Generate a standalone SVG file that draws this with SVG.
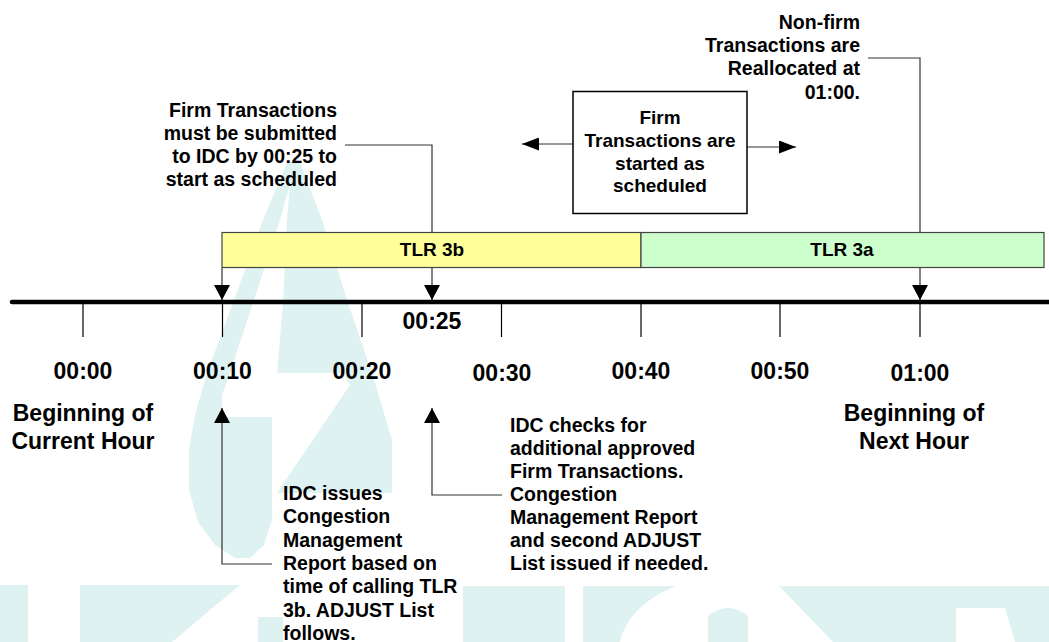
<svg xmlns="http://www.w3.org/2000/svg" width="1049" height="642" viewBox="0 0 1049 642">
<style>
.t{font-family:"Liberation Sans",Arial,sans-serif;font-weight:bold;font-size:19px;fill:#000}
.a{font-size:19.5px}
.big{font-size:23px}
.mid{text-anchor:middle}
.end{text-anchor:end}
.wm{fill:#dff2f2;stroke:none}
.con{fill:none;stroke:#333;stroke-width:1.2}
.tick{stroke:#000;stroke-width:1.2}
</style>
<defs>
<marker id="arr" markerUnits="userSpaceOnUse" markerWidth="15" markerHeight="16" viewBox="0 0 15 16" refX="15" refY="8" orient="auto">
<path d="M0,0 L15,8 L0,16 Z" fill="#000"/>
</marker>
<marker id="arrS" markerUnits="userSpaceOnUse" markerWidth="17" markerHeight="13" viewBox="0 0 17 13" refX="17" refY="6.5" orient="auto">
<path d="M0,0 L17,6.5 L0,13 Z" fill="#000"/>
</marker>
</defs>
<rect width="1049" height="642" fill="#fff"/>
<g id="watermark">
<path class="wm" d="M287,162 L297,162 L287,195 L280,220 L253,303 L230,373 L222,395 L222,417 L272,417 L272,520 L264,545 L250,558 L235,558 L215,545 L198,522 L189,490 L189,450 L195,415 L207,373 L233,303 L263,220 Z"/>
<path class="wm" d="M292,162 L300,162 L322,220 L348,303 L372,373 L392,440 L392,493 L277,493 L350,385 L343,373 L277,373 L283,303 L287,220 Z"/>
<rect class="wm" x="0" y="585" width="28" height="57"/>
<path class="wm" d="M80,585 L240,585 L172,642 L80,642 Z"/>
<rect class="wm" x="258" y="617" width="25" height="25"/>
<rect class="wm" x="463" y="586" width="102" height="56"/>
<path class="wm" d="M583,586 L676,586 C650,596 626,615 620,642 L583,642 Z"/>
<path class="wm" d="M708,642 L708,616 Q728,600 748,616 L748,642 Z"/>
<path class="wm" d="M779,586 L1049,586 L1049,642 L1015,642 L1005,608 L956,608 L956,642 L833,642 Z"/>
</g>
<g id="connectors">
<path class="con" d="M345,145 H432 V300" marker-end="url(#arr)"/>
<path class="con" d="M222,268 V300" marker-end="url(#arr)"/>
<path class="con" d="M868,58 H920 V300" marker-end="url(#arr)"/>
<path class="con" d="M573,144 H522" marker-end="url(#arrS)"/>
<path class="con" d="M747,147 H796" marker-end="url(#arrS)"/>
<path class="con" d="M272,564 H222 V408" marker-end="url(#arr)"/>
<path class="con" d="M502,495 H432 V408" marker-end="url(#arr)"/>
</g>
<g id="tlr3b">
<rect x="222" y="232.5" width="419" height="35" fill="#ffff99" stroke="#444" stroke-width="1.2"/>
<text class="t mid" x="432" y="256">TLR 3b</text>
</g>
<g id="tlr3a">
<rect x="641" y="232.5" width="403" height="35" fill="#ccffcc" stroke="#444" stroke-width="1.2"/>
<text class="t mid" x="842" y="256">TLR 3a</text>
</g>
<g id="timeline">
<line x1="12" y1="302" x2="1049" y2="302" stroke="#000" stroke-width="4.5" stroke-linecap="round"/>
<line class="tick" x1="83" y1="304" x2="83" y2="337"/>
<line class="tick" x1="222.5" y1="304" x2="222.5" y2="337"/>
<line class="tick" x1="362" y1="304" x2="362" y2="337"/>
<line class="tick" x1="501.5" y1="304" x2="501.5" y2="337"/>
<line class="tick" x1="641" y1="304" x2="641" y2="337"/>
<line class="tick" x1="780" y1="304" x2="780" y2="337"/>
<line class="tick" x1="920" y1="304" x2="920" y2="337"/>
<text class="t big mid" x="432" y="329">00:25</text>
<text class="t big mid" x="83" y="378.5">00:00</text>
<text class="t big mid" x="222.5" y="378.5">00:10</text>
<text class="t big mid" x="362" y="378.5">00:20</text>
<text class="t big mid" x="502" y="381">00:30</text>
<text class="t big mid" x="641" y="378.5">00:40</text>
<text class="t big mid" x="780" y="378.5">00:50</text>
<text class="t big mid" x="920" y="381">01:00</text>
</g>
<g id="current-hour">
<text class="t big mid" x="83" y="420.5">Beginning of</text>
<text class="t big mid" x="83" y="448.5">Current Hour</text>
</g>
<g id="next-hour">
<text class="t big mid" x="914" y="420.5">Beginning of</text>
<text class="t big mid" x="914" y="448.5">Next Hour</text>
</g>
<g id="firm-submit">
<text class="t a end" x="337" y="117">Firm Transactions</text>
<text class="t a end" x="337" y="140">must be submitted</text>
<text class="t a end" x="337" y="163">to IDC by 00:25 to</text>
<text class="t a end" x="337" y="185.5">start as scheduled</text>
</g>
<g id="nonfirm">
<text class="t a end" x="860" y="29">Non-firm</text>
<text class="t a end" x="860" y="52">Transactions are</text>
<text class="t a end" x="860" y="75">Reallocated at</text>
<text class="t a end" x="860" y="98.5">01:00.</text>
</g>
<g id="firm-started">
<rect x="573" y="91.5" width="174" height="122" fill="#fff" stroke="#000" stroke-width="1.5"/>
<text class="t mid" x="660" y="123.5">Firm</text>
<text class="t mid" x="660" y="146.5">Transactions are</text>
<text class="t mid" x="660" y="169.5">started as</text>
<text class="t mid" x="660" y="192">scheduled</text>
</g>
<g id="idc-issues">
<text class="t a" x="283" y="500">IDC issues</text>
<text class="t a" x="283" y="523">Congestion</text>
<text class="t a" x="283" y="546.5">Management</text>
<text class="t a" x="283" y="570">Report based on</text>
<text class="t a" x="283" y="593">time of calling TLR</text>
<text class="t a" x="283" y="616.5">3b. ADJUST List</text>
<text class="t a" x="283" y="640">follows.</text>
</g>
<g id="idc-checks">
<text class="t a" x="510" y="431.5">IDC checks for</text>
<text class="t a" x="510" y="454.5">additional approved</text>
<text class="t a" x="510" y="477.5">Firm Transactions.</text>
<text class="t a" x="510" y="500.5">Congestion</text>
<text class="t a" x="510" y="523.5">Management Report</text>
<text class="t a" x="510" y="546.5">and second ADJUST</text>
<text class="t a" x="510" y="570">List issued if needed.</text>
</g>
</svg>
